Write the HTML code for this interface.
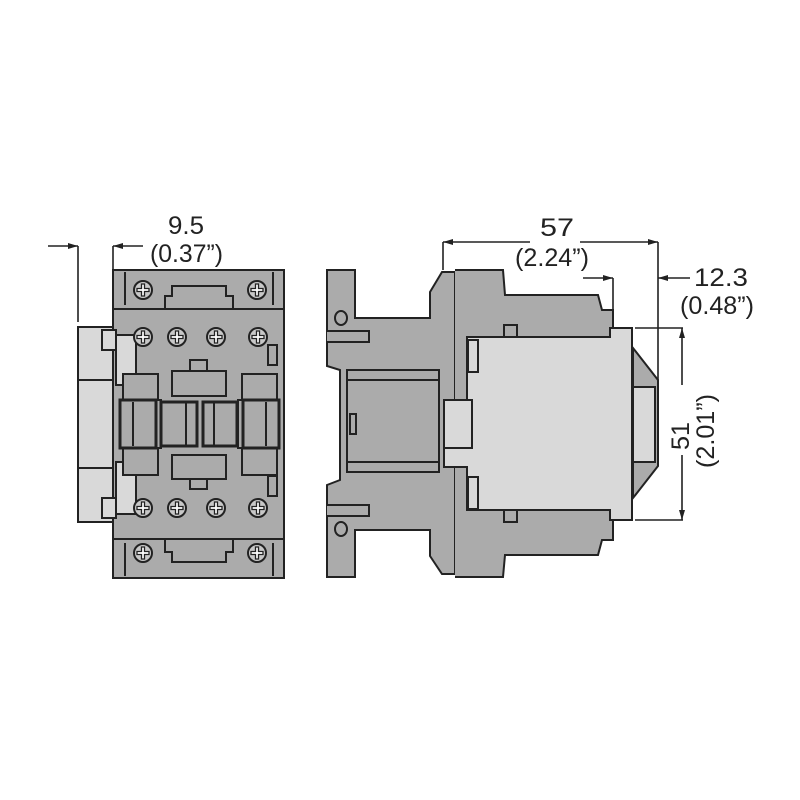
<!DOCTYPE html>
<html><head><style>body{margin:0;background:#fff}svg{display:block}text{font-family:"Liberation Sans",sans-serif;font-size:25px;fill:#222}</style></head>
<body>
<svg width="800" height="800" viewBox="0 0 800 800" xmlns="http://www.w3.org/2000/svg">
<defs>
<g id="scr"><circle r="9" fill="#c8c8c8" stroke="#222" stroke-width="2"/><path d="M-6 -1.5H-1.5V-6H1.5V-1.5H6V1.5H1.5V6H-1.5V1.5H-6Z" fill="#fff" stroke="#222" stroke-width="1.3"/></g>
<marker id="ar" markerWidth="10" markerHeight="6" refX="10" refY="3" orient="auto" markerUnits="userSpaceOnUse"><path d="M0 0L10 3L0 6Z" fill="#222"/></marker>
</defs>
<g stroke="#222" stroke-width="2">
<!-- FRONT VIEW -->
<rect x="78" y="327" width="35" height="195" fill="#d9d9d9"/>
<line x1="78" y1="380" x2="113" y2="380"/><line x1="78" y1="468" x2="113" y2="468"/>
<rect x="113" y="270" width="171" height="308" fill="#ababab"/>
<rect x="113" y="270" width="171" height="39" fill="#ababab"/>
<rect x="113" y="539" width="171" height="39" fill="#ababab"/>
<rect x="102" y="330" width="14" height="20" fill="#d9d9d9"/>
<rect x="102" y="498" width="14" height="20" fill="#d9d9d9"/>
<rect x="116" y="335" width="20" height="50" fill="#d9d9d9"/>
<rect x="116" y="462" width="20" height="52" fill="#d9d9d9"/>
<path d="M123 374H158V400H161V448H158V475H123Z" fill="#ababab"/>
<path d="M277 374H242V400H238V448H242V475H277Z" fill="#ababab"/>
<rect x="172" y="371" width="54" height="25" fill="#ababab"/>
<rect x="190" y="360" width="17" height="11" fill="#ababab"/>
<rect x="172" y="455" width="54" height="24" fill="#ababab"/>
<rect x="190" y="479" width="17" height="10" fill="#ababab"/>
<rect x="268" y="345" width="9" height="20" fill="#ababab"/>
<rect x="268" y="476" width="9" height="20" fill="#ababab"/>
<g stroke-width="3" fill="#ababab">
<rect x="120" y="400" width="36" height="48"/><rect x="161" y="402" width="36" height="44"/>
<rect x="203" y="402" width="34" height="44"/><rect x="243" y="400" width="36" height="48"/>
</g>
<line x1="133" y1="402" x2="133" y2="446"/><line x1="186" y1="402" x2="186" y2="446"/><line x1="214" y1="402" x2="214" y2="446"/><line x1="266" y1="402" x2="266" y2="446"/>
<path d="M165 308V296H172V286H226V296H233V308" fill="#ababab"/>
<path d="M165 540V552H172V562H226V552H233V540" fill="#ababab"/>
<line x1="125" y1="272" x2="125" y2="305"/><line x1="273" y1="272" x2="273" y2="305"/>
<line x1="125" y1="543" x2="125" y2="576"/><line x1="273" y1="543" x2="273" y2="576"/>
</g>
<g>
<use href="#scr" x="143" y="290"/><use href="#scr" x="257" y="290"/>
<use href="#scr" x="143" y="337"/><use href="#scr" x="177" y="337"/><use href="#scr" x="216" y="337"/><use href="#scr" x="258" y="337"/>
<use href="#scr" x="143" y="508"/><use href="#scr" x="177" y="508"/><use href="#scr" x="216" y="508"/><use href="#scr" x="258" y="508"/>
<use href="#scr" x="143" y="553"/><use href="#scr" x="257" y="553"/>
</g>
<!-- SIDE VIEW -->
<g stroke="#222" stroke-width="2" fill="#ababab">
<path d="M327 270H355V318H430V292L442 272H455V574H442L430 556V530H355V577H327V485L340 480V370L327 366Z"/>
<path d="M327 331H369V342H327"/><path d="M327 505H369V516H327"/>
<path d="M455 270H503L505 295H598L602 310H613V328H610V520H613V540H602L598 555H505L503 577H455"/>
<rect x="347" y="370" width="92" height="102" fill="#ababab"/>
<line x1="347" y1="380" x2="439" y2="380"/><line x1="347" y1="462" x2="439" y2="462"/>
<rect x="350" y="414" width="6" height="20"/>
<path d="M633 348L658 380V466L633 498Z"/>
<rect x="633" y="387" width="22" height="75" fill="#d9d9d9"/>
<path d="M467 337H610V328H632V520H610V510H467V467H444V400H467Z" fill="#d9d9d9"/>
<rect x="444" y="400" width="28" height="48" fill="#d9d9d9"/>
<rect x="468" y="340" width="10" height="32" fill="#d9d9d9"/>
<rect x="468" y="477" width="10" height="32" fill="#d9d9d9"/>
<rect x="504" y="325" width="13" height="12"/>
<rect x="504" y="510" width="13" height="12"/>
<ellipse cx="341" cy="318" rx="6" ry="7" fill="#ababab"/>
<ellipse cx="341" cy="529" rx="6" ry="7" fill="#ababab"/>
</g>
<!-- DIMENSIONS -->
<g stroke="#222" stroke-width="1.6" fill="none">
<path d="M78 322V246"/><line x1="48" y1="246" x2="78" y2="246" marker-end="url(#ar)"/>
<path d="M113 270V246"/><line x1="143" y1="246" x2="113" y2="246" marker-end="url(#ar)"/>
<path d="M443 270V242"/><path d="M658 380V242"/>
<line x1="530" y1="242" x2="443" y2="242" marker-end="url(#ar)"/>
<line x1="580" y1="242" x2="658" y2="242" marker-end="url(#ar)"/>
<path d="M613 310V278"/><line x1="583" y1="278" x2="613" y2="278" marker-end="url(#ar)"/>
<line x1="690" y1="278" x2="658" y2="278" marker-end="url(#ar)"/>
<path d="M635 328H683M635 520H683"/>
<line x1="682" y1="385" x2="682" y2="328" marker-end="url(#ar)"/>
<line x1="682" y1="455" x2="682" y2="520" marker-end="url(#ar)"/>
</g>
<text x="168" y="234" textLength="36" lengthAdjust="spacingAndGlyphs">9.5</text>
<text x="150" y="262" textLength="73" lengthAdjust="spacingAndGlyphs">(0.37”)</text>
<text x="540" y="236" textLength="34" lengthAdjust="spacingAndGlyphs">57</text>
<text x="515" y="266" textLength="74" lengthAdjust="spacingAndGlyphs">(2.24”)</text>
<text x="694" y="286" textLength="54" lengthAdjust="spacingAndGlyphs">12.3</text>
<text x="680" y="314" textLength="74" lengthAdjust="spacingAndGlyphs">(0.48”)</text>
<text transform="translate(689,450) rotate(-90)" textLength="28" lengthAdjust="spacingAndGlyphs">51</text>
<text transform="translate(714,468) rotate(-90)" textLength="74" lengthAdjust="spacingAndGlyphs">(2.01”)</text>
</svg>
</body></html>
